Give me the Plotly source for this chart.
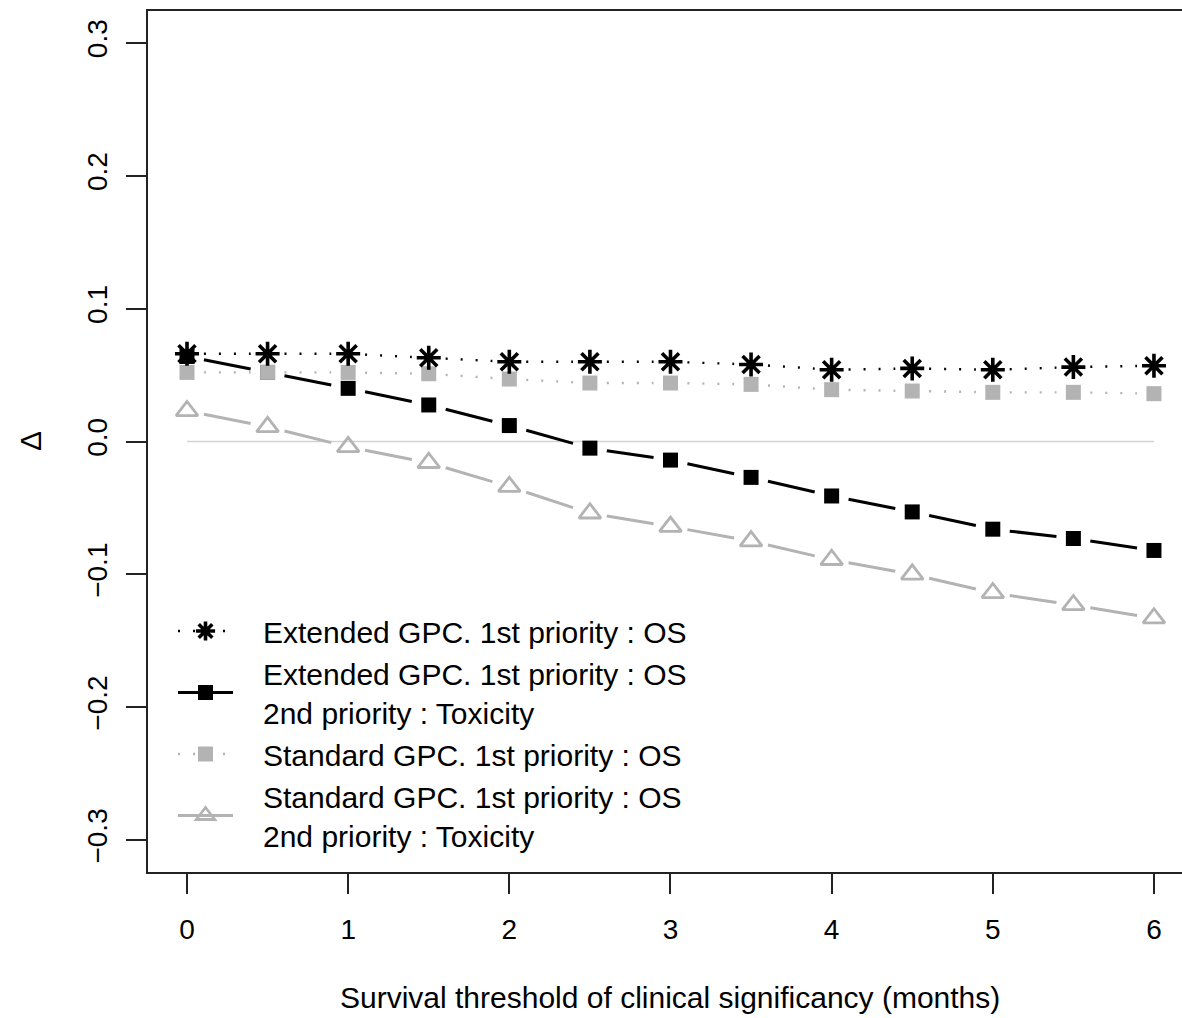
import numpy as np
import plotly.graph_objects as go

# ---------------- data ----------------
thresholds = [0, 0.5, 1, 1.5, 2, 2.5, 3, 3.5, 4, 4.5, 5, 5.5, 6]
ext_os = [0.066, 0.066, 0.066, 0.063, 0.060, 0.060, 0.060, 0.058, 0.054, 0.055, 0.054, 0.056, 0.057]
ext_os_tox = [0.064, 0.052, 0.040, 0.0275, 0.012, -0.005, -0.014, -0.027, -0.041, -0.053, -0.066, -0.073, -0.082]
std_os = [0.052, 0.052, 0.052, 0.051, 0.047, 0.044, 0.044, 0.043, 0.039, 0.038, 0.037, 0.037, 0.036]
std_os_tox = [0.023, 0.011, -0.004, -0.016, -0.034, -0.054, -0.064, -0.075, -0.089, -0.100, -0.114, -0.123, -0.133]

names = [
    "Extended GPC. 1st priority : OS",
    "Extended GPC. 1st priority : OS<br>2nd priority : Toxicity",
    "Standard GPC. 1st priority : OS",
    "Standard GPC. 1st priority : OS<br>2nd priority : Toxicity",
]
x_ticks = [0, 1, 2, 3, 4, 5, 6]
y_ticks = [-0.3, -0.2, -0.1, 0.0, 0.1, 0.2, 0.3]
y_tick_text = ["\u22120.3", "\u22120.2", "\u22120.1", "0.0", "0.1", "0.2", "0.3"]

BLACK = "#000000"
GREY = "#b3b3b3"
GAP = 0.21  # fraction of each interval left blank next to points (R type="b")
PAD = "\u00a0\u00a0\u00a0"  # small indent between legend symbol and text


def gapped(xv, yv, g=GAP):
    xv = np.asarray(xv, float)
    yv = np.asarray(yv, float)
    xs, ys = [], []
    for i in range(len(xv) - 1):
        dx = xv[i + 1] - xv[i]
        dy = yv[i + 1] - yv[i]
        xs += [xv[i] + g * dx, xv[i + 1] - g * dx, None]
        ys += [yv[i] + g * dy, yv[i + 1] - g * dy, None]
    return xs, ys


series = [
    # (values, color, line width, dash, symbol, size, marker line width, rank)
    (std_os_tox, GREY, 3, "solid", "triangle-up-open", 19, 2.8, 4),
    (ext_os_tox, BLACK, 3, "solid", "square", 15, 0, 2),
    (std_os, GREY, 2.4, "2px,13px", "square", 15, 0, 3),
    (ext_os, BLACK, 2.4, "2px,13px", "asterisk-open", 20, 3.6, 1),
]
name_idx = {4: 3, 2: 1, 3: 2, 1: 0}

fig = go.Figure()

# zero reference line
fig.add_trace(go.Scatter(x=[thresholds[0], thresholds[-1]], y=[0, 0], mode="lines",
                         line=dict(color="#d3d3d3", width=1.5), showlegend=False,
                         hoverinfo="skip"))

for vals, col, lw, dash, sym, size, mlw, rank in series:
    gx, gy = gapped(thresholds, vals)
    fig.add_trace(go.Scatter(x=gx, y=gy, mode="lines",
                             line=dict(color=col, width=lw, dash=dash),
                             showlegend=False, hoverinfo="skip"))
    mk = dict(symbol=sym, size=size, color=col)
    if mlw:
        mk["line"] = dict(color=col, width=mlw)
    fig.add_trace(go.Scatter(x=thresholds, y=vals, mode="markers", marker=mk,
                             showlegend=False))
    # legend-only entry
    label = PAD + names[name_idx[rank]].replace("<br>", "<br>" + PAD)
    fig.add_trace(go.Scatter(x=[None], y=[None], mode="lines+markers",
                             name=label, legendrank=rank,
                             line=dict(color=col, width=lw, dash=dash), marker=mk))

FONT = "Liberation Sans, Arial, Helvetica, sans-serif"

fig.update_layout(
    width=1182, height=1018,
    margin=dict(l=148, r=0, t=11, b=146),
    plot_bgcolor="white", paper_bgcolor="white",
    font=dict(family=FONT, size=28, color="#000000"),
    showlegend=True,
    legend=dict(x=(173 - 148) / 1034, y=(872 - 605) / 861, xref="paper", yref="paper",
                xanchor="left", yanchor="top", bgcolor="rgba(0,0,0,0)",
                font=dict(size=30, family=FONT), itemwidth=55,
                tracegroupgap=0, valign="middle"),
    xaxis=dict(range=[-0.242, 6.174], tickmode="array", tickvals=x_ticks,
               ticktext=[str(v) for v in x_ticks], ticks="outside", ticklen=20,
               tickwidth=1.5, tickcolor="#222", showline=True, linewidth=1.5,
               linecolor="#222", mirror=True, showgrid=False, zeroline=False,
               ticklabelstandoff=12, tickfont=dict(size=28)),
    yaxis=dict(range=[-0.324, 0.324], tickmode="array", tickvals=y_ticks,
               ticktext=y_tick_text, ticks="outside", ticklen=20, tickwidth=1.5,
               tickcolor="#222", showline=True, linewidth=1.5, linecolor="#222",
               mirror=False, showgrid=False, zeroline=False, tickangle=-90,
               ticklabelstandoff=8, tickfont=dict(size=28)),
    annotations=[
        dict(text="Survival threshold of clinical significancy (months)",
             xref="paper", yref="paper", x=(670 - 148) / 1034, y=-(998 - 872) / 861,
             xanchor="center", yanchor="middle", showarrow=False,
             font=dict(size=30, family=FONT)),
        dict(text="\u0394", xref="paper", yref="paper", x=-(148 - 30) / 1034,
             y=(872 - 441) / 861, xanchor="center", yanchor="middle",
             showarrow=False, textangle=-90, font=dict(size=30, family=FONT)),
    ],
)

fig.write_html("out.html")
